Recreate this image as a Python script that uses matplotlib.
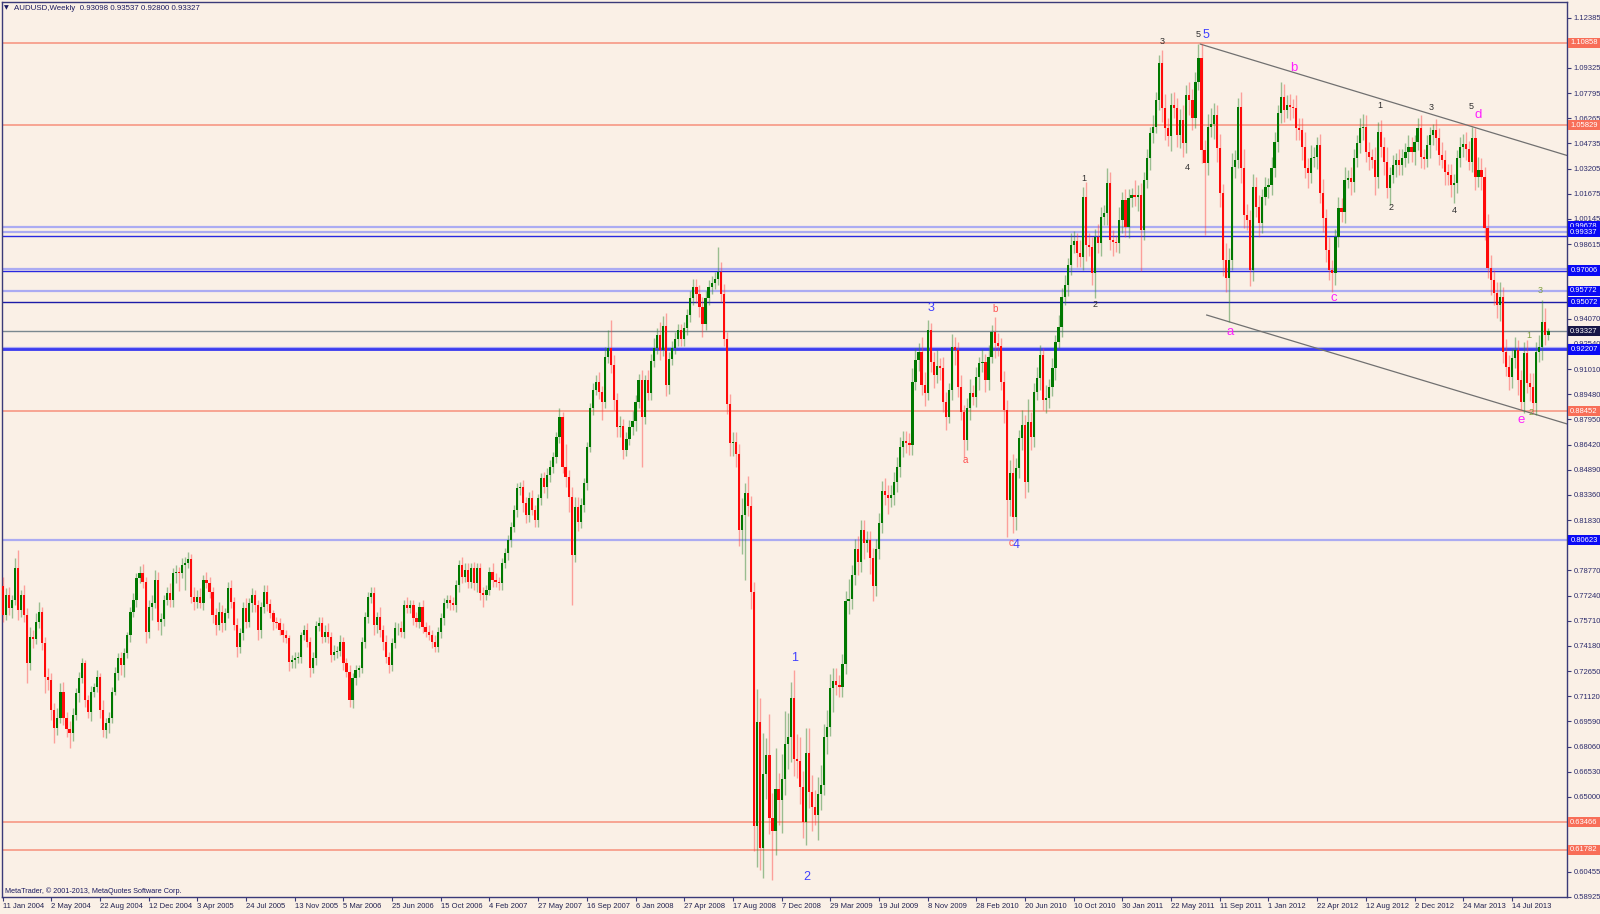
import matplotlib
matplotlib.use("Agg")
import matplotlib.pyplot as plt
from matplotlib.patches import Rectangle
from matplotlib.transforms import blended_transform_factory
import numpy as np

plt.rcParams['font.family'] = ['Liberation Sans', 'DejaVu Sans']

# weekly AUDUSD closes (x 1e-4), 11 Jan 2004 .. Oct 2013
first_open = 7780
closes = [
    7606, 7728, 7647, 7698, 7890, 7637, 7728, 7606, 7313, 7475, 7458, 7566, 7627, 7434, 7232, 7211, 7029, 6918, 6978, 7140,
    6978, 6913, 6891, 6999, 7130, 7221, 7313, 7090, 7019, 7136, 7171, 7232, 7029, 6907, 6952, 6978, 7140, 7252, 7343, 7302,
    7373, 7485, 7623, 7698, 7829, 7864, 7809, 7505, 7657, 7677, 7819, 7566, 7580, 7698, 7738, 7698, 7860, 7870, 7860, 7910,
    7920, 7945, 7718, 7687, 7718, 7677, 7819, 7799, 7748, 7606, 7546, 7627, 7556, 7617, 7768, 7687, 7546, 7414, 7495, 7647,
    7566, 7677, 7728, 7667, 7515, 7657, 7748, 7673, 7617, 7566, 7556, 7515, 7485, 7465, 7323, 7333, 7343, 7353, 7485, 7515,
    7444, 7282, 7343, 7542, 7556, 7475, 7505, 7475, 7363, 7383, 7390, 7444, 7313, 7262, 7090, 7222, 7272, 7282, 7444, 7596,
    7718, 7738, 7546, 7596, 7515, 7444, 7353, 7303, 7434, 7525, 7530, 7505, 7667, 7647, 7667, 7586, 7566, 7657, 7536, 7505,
    7485, 7444, 7414, 7505, 7586, 7677, 7697, 7677, 7667, 7789, 7910, 7840, 7880, 7809, 7890, 7799, 7890, 7738, 7728, 7758,
    7870, 7819, 7809, 7799, 7920, 7981, 8062, 8143, 8244, 8376, 8386, 8285, 8214, 8315, 8244, 8184, 8315, 8437, 8386, 8457,
    8508, 8568, 8690, 8812, 8508, 8447, 8325, 7971, 8265, 8174, 8275, 8407, 8630, 8863, 8974, 9025, 8960, 8903, 9177, 9227,
    9126, 8913, 8751, 8757, 8612, 8678, 8749, 8784, 8902, 9034, 8810, 9034, 8955, 9152, 9231, 9310, 9218, 9363, 9007, 9165,
    9231, 9284, 9336, 9284, 9350, 9429, 9534, 9600, 9555, 9481, 9376, 9534, 9600, 9626, 9652, 9692, 9560, 9284, 8889, 8652,
    8660, 8586, 8125, 8217, 8349, 8270, 7744, 6323, 6954, 6191, 6638, 6757, 6375, 6296, 6546, 6480, 6612, 6823, 6862, 7099,
    6730, 6717, 6560, 6349, 6770, 6533, 6441, 6389, 6520, 6573, 6862, 6928, 7165, 7204, 7180, 7170, 7310, 7692, 7705, 7849,
    8007, 7928, 8126, 8047, 8060, 7955, 7784, 8007, 8165, 8362, 8336, 8320, 8336, 8415, 8507, 8626, 8665, 8652, 8639, 9025,
    9157, 9207, 9005, 8954, 9339, 9146, 9066, 9120, 9106, 8903, 8812, 8974, 9237, 9217, 8994, 8843, 8670, 8863, 8954, 8930,
    9055, 9136, 9146, 9035, 9177, 9329, 9258, 9240, 9022, 8853, 8306, 8468, 8204, 8498, 8680, 8760, 8417, 8782, 8690, 8964,
    9045, 9187, 8913, 8923, 8990, 9106, 9268, 9359, 9542, 9613, 9734, 9856, 9880, 9805, 9785, 10149, 9856, 9846, 9683, 9906,
    9870, 10028, 10050, 10231, 9886, 9876, 9866, 10007, 10129, 9967, 10139, 10160, 10150, 10160, 9947, 10251, 10382, 10534, 10574, 10737,
    10960, 10686, 10565, 10520, 10707, 10690, 10524, 10615, 10473, 10767, 10737, 10625, 10848, 10990, 10433, 10352, 10575, 10590, 10646, 10443,
    10169, 9765, 9653, 9765, 10332, 10373, 10697, 10322, 10038, 10007, 9704, 10210, 10088, 9987, 10149, 10210, 10220, 10322, 10484, 10656,
    10757, 10676, 10706, 10696, 10686, 10565, 10555, 10453, 10322, 10291, 10382, 10390, 10463, 10169, 10017, 9825, 9704, 9683, 9906, 10079,
    10058, 10251, 10261, 10240, 10382, 10473, 10565, 10575, 10423, 10392, 10372, 10271, 10544, 10453, 10362, 10200, 10281, 10342, 10372, 10342,
    10382, 10423, 10453, 10423, 10484, 10565, 10392, 10380, 10463, 10524, 10554, 10504, 10403, 10372, 10301, 10280, 10220, 10230, 10382, 10453,
    10470, 10440, 10362, 10504, 10271, 10312, 10271, 9957, 9714, 9643, 9562, 9491, 9542, 9207, 9117, 9056, 9167, 9218, 9035, 8903,
    9197, 9015, 8990, 8893, 9207, 9238, 9390, 9310, 9333,
]
# shadow above the body and below it (x 1e-4)
wick_up = [
    60, 40, 50, 30, 60, 111, 30, 60, 40, 60, 40, 50, 60, 30, 40, 50, 40, 40, 60, 50,
    60, 40, 50, 40, 30, 40, 30, 20, 30, 40, 20, 40, 20, 60, 30, 40, 30, 40, 30, 40,
    30, 20, 30, 40, 30, 40, 50, 30, 40, 50, 60, 50, 40, 30, 40, 60, 30, 40, 30, 40,
    40, 45, 30, 60, 40, 50, 30, 50, 40, 30, 40, 60, 40, 30, 40, 50, 30, 40, 30, 40,
    60, 30, 40, 30, 30, 30, 40, 40, 30, 20, 30, 30, 40, 30, 20, 30, 40, 30, 20, 30,
    40, 30, 40, 30, 40, 40, 40, 50, 30, 40, 30, 40, 30, 30, 40, 30, 30, 20, 30, 30,
    30, 40, 40, 30, 60, 30, 40, 30, 30, 40, 30, 40, 30, 50, 30, 30, 40, 30, 40, 30,
    40, 30, 40, 30, 30, 30, 30, 30, 40, 30, 30, 50, 40, 40, 30, 40, 30, 30, 40, 30,
    30, 50, 40, 30, 30, 30, 30, 30, 30, 30, 30, 40, 40, 40, 50, 30, 30, 30, 40, 40,
    40, 30, 30, 50, 30, 140, 40, 60, 60, 60, 40, 30, 30, 30, 40, 40, 60, 40, 60, 112,
    173, 60, 40, 60, 40, 40, 40, 60, 40, 40, 60, 30, 60, 40, 60, 40, 80, 60, 80, 40,
    40, 40, 40, 40, 40, 40, 40, 50, 50, 60, 60, 40, 40, 40, 40, 152, 60, 60, 40, 60,
    60, 60, 60, 100, 60, 100, 60, 60, 200, 150, 250, 100, 250, 150, 250, 100, 150, 200, 150, 100,
    171, 150, 150, 100, 150, 150, 100, 100, 100, 120, 80, 100, 80, 80, 80, 60, 60, 60, 120, 60,
    60, 80, 60, 60, 60, 60, 60, 60, 60, 60, 80, 60, 60, 60, 60, 60, 60, 60, 60, 80,
    70, 50, 90, 80, 61, 40, 60, 100, 50, 70, 60, 40, 80, 60, 50, 70, 40, 60, 90, 50,
    60, 40, 80, 50, 70, 40, 90, 60, 50, 70, 60, 80, 120, 60, 50, 90, 60, 140, 60, 50,
    70, 60, 40, 80, 50, 60, 40, 70, 50, 60, 40, 70, 60, 50, 80, 60, 90, 70, 60, 50,
    80, 60, 50, 90, 70, 60, 40, 80, 50, 70, 60, 40, 90, 60, 70, 50, 60, 40, 70, 50,
    51, 80, 90, 60, 70, 80, 60, 70, 90, 60, 80, 70, 60, 87, 90, 60, 80, 100, 70, 60,
    90, 60, 100, 70, 80, 60, 50, 90, 120, 70, 60, 80, 60, 70, 50, 60, 40, 70, 60, 50,
    87, 80, 60, 70, 50, 80, 60, 70, 90, 60, 80, 60, 50, 70, 90, 60, 80, 60, 50, 70,
    60, 80, 50, 70, 60, 50, 60, 80, 70, 60, 50, 80, 60, 70, 60, 90, 50, 60, 40, 70,
    60, 50, 70, 60, 40, 60, 80, 50, 60, 50, 40, 70, 60, 80, 60, 50, 70, 60, 50, 60,
    60, 70, 50, 71, 60, 80, 70, 60, 90, 80, 60, 70, 90, 60, 80, 70, 60, 80, 60, 60,
    70, 80, 60, 90, 60, 70, 132, 80, 21,
]
wick_dn = [
    40, 30, 40, 60, 30, 60, 40, 40, 120, 40, 50, 30, 40, 40, 100, 60, 60, 92, 40, 30,
    40, 50, 95, 50, 30, 50, 30, 40, 40, 60, 30, 30, 50, 40, 50, 60, 30, 20, 40, 60,
    70, 30, 40, 30, 40, 30, 40, 70, 40, 80, 30, 50, 80, 40, 30, 40, 40, 60, 110, 30,
    150, 30, 40, 50, 40, 30, 40, 30, 40, 50, 60, 30, 50, 40, 30, 40, 30, 60, 40, 40,
    40, 30, 50, 40, 60, 50, 40, 40, 30, 50, 30, 30, 40, 30, 60, 40, 50, 30, 40, 30,
    30, 50, 30, 40, 30, 40, 30, 40, 40, 30, 40, 30, 40, 30, 40, 50, 40, 40, 30, 40,
    40, 40, 60, 50, 40, 50, 40, 50, 40, 30, 40, 30, 40, 30, 30, 40, 30, 40, 40, 30,
    30, 40, 30, 30, 40, 40, 30, 40, 30, 40, 40, 40, 30, 40, 40, 40, 50, 40, 70, 30,
    30, 40, 30, 40, 40, 30, 40, 40, 30, 40, 40, 50, 50, 40, 30, 40, 40, 40, 40, 70,
    40, 40, 40, 40, 40, 60, 90, 304, 40, 60, 40, 40, 40, 30, 40, 30, 40, 110, 40, 40,
    50, 60, 60, 60, 60, 40, 40, 50, 60, 40, 303, 40, 40, 40, 40, 40, 60, 40, 70, 60,
    40, 40, 40, 40, 40, 40, 40, 40, 50, 60, 80, 40, 40, 40, 40, 40, 50, 40, 60, 80,
    80, 80, 100, 150, 400, 60, 100, 150, 250, 132, 183, 150, 100, 300, 150, 150, 200, 100, 150, 150,
    100, 100, 100, 100, 140, 100, 150, 60, 150, 100, 60, 100, 60, 150, 60, 60, 60, 60, 80, 60,
    60, 80, 60, 100, 60, 100, 90, 60, 60, 60, 60, 100, 60, 60, 60, 60, 60, 60, 60, 60,
    50, 70, 60, 80, 40, 60, 80, 50, 70, 60, 80, 40, 60, 90, 60, 50, 101, 60, 70, 50,
    60, 80, 50, 70, 60, 40, 90, 60, 50, 80, 223, 100, 100, 80, 60, 70, 100, 60, 80, 60,
    50, 70, 60, 80, 60, 50, 70, 40, 60, 50, 70, 60, 50, 80, 60, 80, 100, 60, 70, 152,
    60, 80, 50, 70, 60, 90, 50, 60, 80, 60, 70, 50, 60, 90, 247, 60, 50, 70, 60, 40,
    60, 80, 70, 60, 90, 60, 70, 80, 80, 60, 90, 70, 60, 50, 80, 436, 70, 60, 90, 80,
    80, 100, 80, 263, 60, 70, 50, 90, 80, 60, 100, 70, 60, 80, 60, 50, 70, 60, 50, 60,
    60, 70, 50, 80, 60, 70, 60, 80, 60, 90, 60, 50, 70, 60, 80, 70, 60, 111, 70, 60,
    60, 70, 50, 80, 60, 50, 60, 70, 60, 80, 50, 111, 70, 60, 80, 60, 100, 50, 70, 60,
    60, 50, 70, 60, 80, 50, 70, 60, 50, 80, 60, 70, 60, 50, 80, 60, 70, 111, 60, 50,
    60, 70, 50, 60, 80, 60, 80, 70, 60, 90, 70, 80, 100, 70, 60, 80, 70, 60, 90, 50,
    70, 60, 80, 60, 70, 60, 80, 60, 30,
]

date_labels = ["11 Jan 2004", "2 May 2004", "22 Aug 2004", "12 Dec 2004", "3 Apr 2005", "24 Jul 2005",
               "13 Nov 2005", "5 Mar 2006", "25 Jun 2006", "15 Oct 2006", "4 Feb 2007", "27 May 2007",
               "16 Sep 2007", "6 Jan 2008", "27 Apr 2008", "17 Aug 2008", "7 Dec 2008", "29 Mar 2009",
               "19 Jul 2009", "8 Nov 2009", "28 Feb 2010", "20 Jun 2010", "10 Oct 2010", "30 Jan 2011",
               "22 May 2011", "11 Sep 2011", "1 Jan 2012", "22 Apr 2012", "12 Aug 2012", "2 Dec 2012",
               "24 Mar 2013", "14 Jul 2013"]
date_weeks = [16 * i for i in range(len(date_labels))]

price_ticks = [0.58925, 0.60455, 0.65000, 0.66530, 0.68060, 0.69590, 0.71120,
               0.72650, 0.74180, 0.75710, 0.77240, 0.78770, 0.81830, 0.83360, 0.84890,
               0.86420, 0.87950, 0.89480, 0.91010, 0.92540, 0.94070, 0.98615, 1.00145,
               1.01675, 1.03205, 1.04735, 1.06265, 1.07795, 1.09325, 1.12385]

salmon_levels = [1.10858, 1.05829, 0.88452, 0.63466, 0.61782]
lavender_levels = [0.99678, 0.99337, 0.97100, 0.95772, 0.92280, 0.80623]
blue_levels = [0.99102, 0.97006, 0.92207]
navy_level = 0.95072
blue_boxes = [0.99678, 0.99337, 0.97006, 0.95772, 0.95072, 0.92207, 0.80623]
bid_price = 0.93327

upper_line_w, upper_line_p = [393.6, 514.1], [1.1077, 1.0400]
lower_line_w, lower_line_p = [395.7, 514.1], [0.9430, 0.8768]

# Elliott wave marks: (week, price, text)
blue_marks = [(260.4, 0.7345, "1"), (264.4, 0.6011, "2"), (305.0, 0.9471, "3"),
              (333.0, 0.8032, "4"), (395.4, 1.1134, "5")]
red_marks = [(316.3, 0.8549, "a"), (326.0, 0.9467, "b"), (331.4, 0.8045, "c")]
dark_marks = [(355.3, 1.0259, "1"), (359.0, 0.9491, "2"), (381.0, 1.1090, "3"), (389.2, 1.0324, "4"),
              (392.9, 1.1134, "5"), (452.5, 1.0706, "1"), (456.2, 1.0081, "2"), (469.6, 1.0694, "3"),
              (477.2, 1.0063, "4"), (482.6, 1.0695, "5")]
pink_marks = [(403.3, 0.9329, "a"), (424.3, 1.0929, "b"), (437.4, 0.9533, "c"),
              (484.8, 1.0646, "d"), (499.2, 0.8789, "e")]
green_marks = [(501.5, 0.9308, "1"), (502.4, 0.8836, "2"), (505.4, 0.9578, "3")]

bg = "#FAF0E6"
axis_col = "#3A3A78"
text_col = "#2C2C6C"

c = np.array(closes) / 1e4
o = np.r_[first_open / 1e4, c[:-1]]
hi = np.maximum(o, c) + np.array(wick_up) / 1e4
lo = np.minimum(o, c) - np.array(wick_dn) / 1e4
x = np.arange(len(c))
bull = c >= o

fig = plt.figure(figsize=(16, 9.14), dpi=100, facecolor=bg)
ax = fig.add_axes([2 / 1600, 17 / 914, 1565 / 1600, 895 / 914], facecolor=bg)

for p in salmon_levels:
    ax.axhline(p, color="#F7907C", lw=1.1, zorder=1)
for p in lavender_levels:
    ax.axhline(p, color="#ABABF2", lw=1.6, zorder=1)
for p in blue_levels:
    ax.axhline(p, color="#2828E0", lw=1.0, zorder=1)
ax.axhline(0.92207, color="#3C3CF0", lw=2.0, zorder=1)
ax.axhline(navy_level, color="#1C1CA8", lw=1.0, zorder=1)
ax.axhline(bid_price, color="#7A8890", lw=1.0, zorder=1)

ax.plot(upper_line_w, upper_line_p, color="#707070", lw=0.9, zorder=2)
ax.plot(lower_line_w, lower_line_p, color="#707070", lw=0.9, zorder=2)

# candles
ax.vlines(x[bull], lo[bull], hi[bull], color="#3C8C3C", lw=1.0, alpha=0.5, zorder=3)
ax.vlines(x[~bull], lo[~bull], hi[~bull], color="#FF4040", lw=1.0, alpha=0.45, zorder=3)
body_lo = np.minimum(o, c)
body_h = np.maximum(np.abs(c - o), 0.0005)
ax.bar(x[bull], body_h[bull], bottom=body_lo[bull], width=0.72, color="#007800", lw=0, zorder=4)
ax.bar(x[~bull], body_h[~bull], bottom=body_lo[~bull], width=0.72, color="#FF0A0A", lw=0, zorder=4)

for w, p, t in blue_marks:
    ax.text(w, p, t, color="#4040FF", fontsize=9, ha="center", va="center", zorder=6)
for w, p, t in red_marks:
    ax.text(w, p, t, color="#FF5050", fontsize=7, ha="center", va="center", zorder=6)
for w, p, t in dark_marks:
    ax.text(w, p, t, color="#303030", fontsize=6.5, ha="center", va="center", zorder=6)
for w, p, t in pink_marks:
    ax.text(w, p, t, color="#FF20FF", fontsize=9.5, ha="center", va="center", zorder=6)
for w, p, t in green_marks:
    ax.text(w, p, t, color="#7FA040", fontsize=6.5, ha="center", va="center", zorder=6)

ax.set_xlim(-0.2, 514.1)
ax.set_ylim(0.5892, 1.1333)

ax.yaxis.tick_right()
ax.set_yticks(price_ticks)
ax.set_yticklabels([f"{p:.5f}" for p in price_ticks])
ax.tick_params(axis="y", direction="out", length=3, width=0.8, pad=1.5, labelsize=5.5,
               colors=axis_col, labelcolor=text_col)
ax.set_xticks(date_weeks)
ax.set_xticklabels(date_labels, ha="left")
ax.tick_params(axis="x", direction="out", length=3, width=0.8, pad=1.5, labelsize=5.5,
               colors=axis_col, labelcolor="#222250")
for s in ax.spines.values():
    s.set_color(axis_col)
    s.set_linewidth(1.0)

# price labels on the right scale
btr = blended_transform_factory(fig.transFigure, ax.transData)


def price_box(p, fc, z):
    ax.add_patch(Rectangle((1568 / 1600, p - 0.0031), 32 / 1600, 0.0062, transform=btr,
                           fc=fc, ec="none", clip_on=False, zorder=z))
    ax.text(1584 / 1600, p, f"{p:.5f}", transform=btr, ha="center", va="center",
            fontsize=5.5, color="white", clip_on=False, zorder=z + 0.5)


for p in salmon_levels:
    price_box(p, "#F86E58", 7)
for i, p in enumerate(blue_boxes):
    price_box(p, "#0A0AF5", 7 + i)
price_box(bid_price, "#161646", 20)

fig.text(4 / 1600, 1 - 8 / 914, "▼", fontsize=4.5, color="#1A1A60", va="center", family="DejaVu Sans")
fig.text(14 / 1600, 1 - 8 / 914, "AUDUSD,Weekly  0.93098 0.93537 0.92800 0.93327",
         fontsize=5.7, color="#1A1A60", va="center")
fig.text(5 / 1600, 1 - 891 / 914, "MetaTrader, © 2001-2013, MetaQuotes Software Corp.",
         fontsize=5.2, color="#1A1A60", va="center")

fig.savefig("out.png", dpi=100, facecolor=bg)
